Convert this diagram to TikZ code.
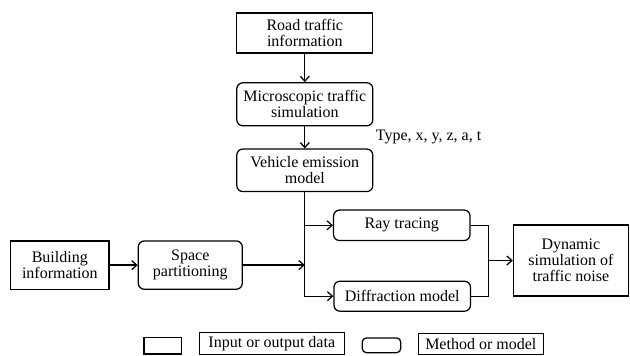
\documentclass[tikz,border=0pt]{standalone}
\usepackage{fontspec}
\setmainfont{Liberation Serif}
\usetikzlibrary{arrows.meta}
\tikzset{
  base/.style={draw, line width=1.25pt, inner sep=0pt, align=center, font=\fontsize{16}{16.2}\selectfont},
  databox/.style={base},
  methodbox/.style={base, rounded corners=6pt},
  arr/.style={line width=1.25pt, -{Straight Barb[length=5pt,width=9pt]}},
  conn/.style={line width=1.25pt},
  lbl/.style={font=\fontsize{16}{16.2}\selectfont, inner sep=0pt}
}
\begin{document}
\begin{tikzpicture}[x=1pt,y=-1pt]
\useasboundingbox (0,0) rectangle (630,356);
% main boxes
\node[databox, minimum width=136pt, minimum height=40pt] (road) at (304.8,33) {Road traffic\\information};
\node[methodbox, minimum width=136pt, minimum height=43pt] (micro) at (304.8,104.3) {Microscopic traffic\\simulation};
\node[methodbox, minimum width=136pt, minimum height=42.5pt] (veh) at (304.8,170.3) {Vehicle emission\\model};
\node[methodbox, minimum width=136.5pt, minimum height=30.5pt] (ray) at (401.8,225.3) {Ray tracing};
\node[methodbox, minimum width=136.5pt, minimum height=30pt] (diff) at (402.2,296.2) {Diffraction model};
\node[databox, minimum width=98.3pt, minimum height=48.3pt] (build) at (59.8,265.1) {Building\\information};
\node[methodbox, minimum width=104pt, minimum height=48.3pt] (space) at (190.3,265.1) {Space\\partitioning};
\node[databox, minimum width=115pt, minimum height=71pt] (dyn) at (570.9,260.5) {Dynamic\\simulation of\\traffic noise};
\node[lbl, anchor=west] (type) at (375.7,136.7) {Type, x, y, z, a, t};
% legend
\node[databox, minimum width=37.7pt, minimum height=16.7pt] (lg1) at (162.9,345.7) {};
\node[databox, minimum width=145pt, minimum height=21.5pt] (lg2) at (271.8,343.6) {Input or output data};
\node[methodbox, rounded corners=4pt, minimum width=38.4pt, minimum height=14.7pt] (lg3) at (381.5,345.3) {};
\node[databox, minimum width=125pt, minimum height=21pt] (lg4) at (480.8,343.9) {Method or model};
% connectors
\coordinate (r) at (488.3,225.3);
\draw[arr] (road) -- (micro);
\draw[arr] (micro) -- (veh);
\draw[arr] (veh.south) |- (diff.west);
\draw[arr] (veh.south |- ray.west) -- (ray.west);
\draw[arr] (build) -- (space);
\draw[arr] (space.east) -- (space.east -| veh.south);
\draw[conn] (ray.east) -| (r |- diff.east) -- (diff.east);
\draw[arr] (r |- dyn.west) -- (dyn.west);
\end{tikzpicture}
\end{document}
